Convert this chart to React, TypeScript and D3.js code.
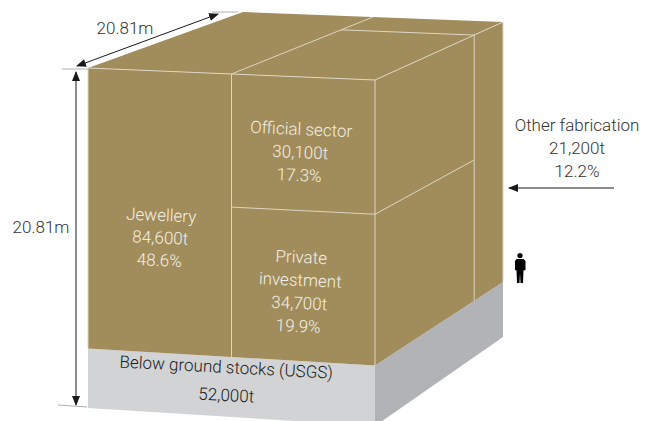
import * as d3 from "d3";
import { useEffect, useRef } from "react";

// values
const segmentNames = ["Jewellery", "Official sector", "Private investment", "Other fabrication"];
const segmentTonnes = ["84,600t", "30,100t", "34,700t", "21,200t"];
const segmentShares = ["48.6%", "17.3%", "19.9%", "12.2%"];
const groundName = "Below ground stocks (USGS)";
const groundTonnes = "52,000t";
const sideLength = "20.81m";

// where the cube is cut, as fractions of its width, depth and height
const widthCuts = [0.5];
const depthCuts = [0.775];
const heightCuts = [0.175, 0.612];

const WIDTH = 653;
const HEIGHT = 421;
const GOLD = "#a18c5c";
const SEAM = "#dcd6c2";
const INK = "#333333";
const PALE = "#f4f0e4";
const FONT = "Roboto, 'Liberation Sans', sans-serif";

// one scale per vertical edge of the drawn box: height fraction -> y
const frontLeftY = d3.scaleLinear().domain([0, 1]).range([408, 68]);
const frontRightY = d3.scaleLinear().domain([0, 1]).range([426, 80]);
const backRightY = d3.scaleLinear().domain([0, 1]).range([337, 22]);
const backLeftY = d3.scaleLinear().domain([0, 1]).range([330, 12]);

// u: along the front, v: into the depth, w: up
function project(u: number, v: number, w: number): [number, number] {
    const front = d3.interpolateNumber(88, 375)(u);
    const back = d3.interpolateNumber(243, 503)(u);
    const frontY = d3.interpolateNumber(frontLeftY(w), frontRightY(w))(u);
    const backY = d3.interpolateNumber(backLeftY(w), backRightY(w))(u);
    return [d3.interpolateNumber(front, back)(v), d3.interpolateNumber(frontY, backY)(v)];
}

export default function App() {
    const ref = useRef<SVGSVGElement>(null);

    useEffect(() => {
        const svg = d3.select(ref.current!);
        svg.selectAll("*").remove();

        const line = d3.line();
        const ground = heightCuts[0];
        const split = heightCuts[1];
        const uCut = widthCuts[0];
        const vCut = depthCuts[0];

        const defs = svg.append("defs");
        const marker = defs
            .append("marker")
            .attr("id", "head")
            .attr("viewBox", "0 0 10 8")
            .attr("refX", 9)
            .attr("refY", 4)
            .attr("markerWidth", 10)
            .attr("markerHeight", 8)
            .attr("markerUnits", "userSpaceOnUse")
            .attr("orient", "auto-start-reverse");
        marker.append("path").attr("d", "M0,0L10,4L0,8Z").attr("fill", "#1a1a1a");

        // 1. faces
        const faces: [[number, number, number][], string][] = [
            [[[0, 0, 0], [1, 0, 0], [1, 0, ground], [0, 0, ground]], "#d1d3d4"],
            [[[1, 0, 0], [1, 1, 0], [1, 1, ground], [1, 0, ground]], "#b1b3b6"],
            [[[0, 0, ground], [1, 0, ground], [1, 0, 1], [0, 0, 1]], GOLD],
            [[[1, 0, ground], [1, 1, ground], [1, 1, 1], [1, 0, 1]], GOLD],
            [[[0, 0, 1], [1, 0, 1], [1, 1, 1], [0, 1, 1]], GOLD],
        ];
        svg.append("g")
            .selectAll("path")
            .data(faces)
            .enter()
            .append("path")
            .attr("d", d => line(d[0].map(p => project(p[0], p[1], p[2]))) + "Z")
            .attr("fill", d => d[1]);

        // 2. seams between the segments
        const seams: [number, number, number][][] = [
            [[0, 0, 1], [1, 0, 1]],
            [[0, 0, ground], [0, 0, 1]],
            [[uCut, 0, ground], [uCut, 0, 1]],
            [[uCut, 0, 1], [uCut, 1, 1]],
            [[uCut, 0, split], [1, 0, split]],
            [[1, 0, ground], [1, 0, 1]],
            [[1, 0, 1], [1, 1, 1]],
            [[1, 1, ground], [1, 1, 1]],
            [[1, 0, split], [1, vCut, split]],
            [[1, vCut, ground], [1, vCut, 1]],
            [[uCut, vCut, 1], [1, vCut, 1]],
        ];
        svg.append("g")
            .selectAll("path")
            .data(seams)
            .enter()
            .append("path")
            .attr("d", d => line(d.map(p => project(p[0], p[1], p[2]))))
            .attr("fill", "none")
            .attr("stroke", SEAM)
            .attr("stroke-width", 1);

        // 3. dimension arrows
        const arrows: [[number, number], [number, number]][] = [
            [[77, 66], [218, 14]],
            [[76, 72], [76, 405]],
        ];
        svg.append("g")
            .selectAll("path")
            .data(arrows)
            .enter()
            .append("path")
            .attr("d", d => line(d))
            .attr("stroke", "#1a1a1a")
            .attr("stroke-width", 1)
            .attr("marker-start", "url(#head)")
            .attr("marker-end", "url(#head)");
        svg.append("path")
            .attr("d", line([[614, 188], [509, 188]]))
            .attr("stroke", "#1a1a1a")
            .attr("stroke-width", 1)
            .attr("marker-end", "url(#head)");

        // little end ticks of the dimensions
        const ticks: [[number, number], [number, number]][] = [
            [[62, 69], [88, 69]],
            [[212, 12], [238, 12]],
            [[58, 405], [87, 407]],
        ];
        svg.append("g")
            .selectAll("path")
            .data(ticks)
            .enter()
            .append("path")
            .attr("d", d => line(d))
            .attr("stroke", "#9a9a9a")
            .attr("stroke-width", 0.8);

        // 4. person for scale
        const person = svg.append("g").attr("fill", "#000");
        person.append("circle").attr("cx", 520).attr("cy", 255.5).attr("r", 2.6);
        person
            .append("path")
            .attr("d", "M516.5,259L523.5,259L525.5,261L525.5,270L523.5,270.5L523,283L520.5,283L520,273L519.5,283L517,283L516.5,270.5L515,270L515,261Z");

        // 5. texts
        const label = (lines: string[], x: number, y: number, gap: number, fill: string, tilt: number) => {
            const g = svg
                .append("g")
                .attr("transform", `translate(${x},${y}) rotate(${tilt})`)
                .attr("font-family", FONT)
                .attr("font-weight", 300)
                .attr("font-size", 17)
                .attr("text-anchor", "middle")
                .attr("fill", fill);
            lines.forEach((t, i) => {
                g.append("text").attr("y", i * gap).text(t);
            });
        };

        label([segmentNames[0], segmentTonnes[0], segmentShares[0]], 161, 221, 22.5, PALE, 2.5);
        label([segmentNames[1], segmentTonnes[1], segmentShares[1]], 301, 135, 23, PALE, 2.5);
        label(["Private", "investment", segmentTonnes[2], segmentShares[2]], 301, 263, 23, PALE, 2.5);
        label([segmentNames[3], segmentTonnes[3], segmentShares[3]], 577, 131, 23, INK, 0);
        label([groundName], 226, 373, 0, "#1a1a1a", 3);
        label([groundTonnes], 226, 401, 0, "#1a1a1a", 3);
        label([sideLength], 125, 34, 0, INK, 0);
        label([sideLength], 41, 233, 0, INK, 0);
    }, []);

    return (
        <svg
            ref={ref}
            width={WIDTH}
            height={HEIGHT}
            style={{ position: "absolute", left: 0, top: 0, display: "block", background: "#fff" }}
        />
    );
}
